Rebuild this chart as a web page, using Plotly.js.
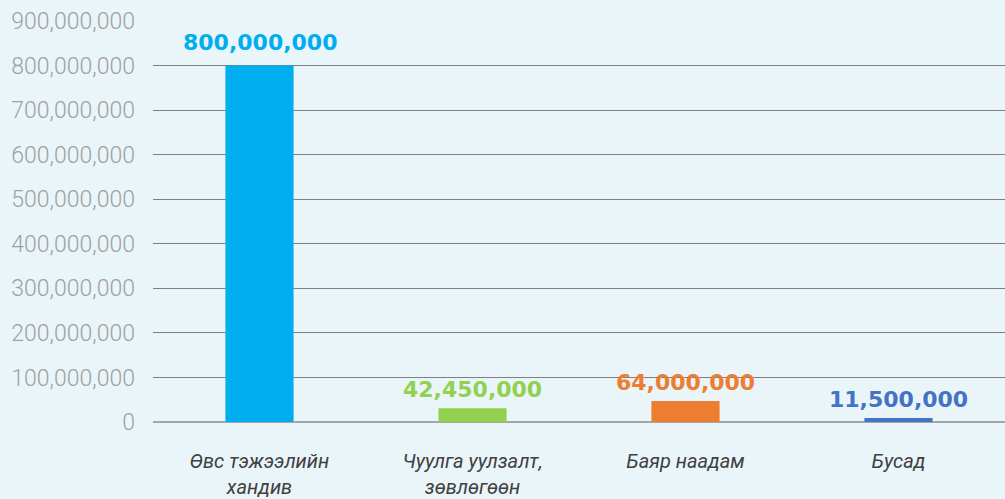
<!DOCTYPE html>
<html>
<head>
<meta charset="utf-8">
<script src="https://cdn.plot.ly/plotly-3.0.1.min.js"></script>
<style>html,body{margin:0;padding:0;background:#eaf5fa;}#chart{width:1005px;height:499px;}</style>
</head>
<body>
<div id="chart"></div>
<script>
const categories = ["Өвс тэжээлийн<br>хандив", "Чуулга уулзалт,<br>зөвлөгөөн", "Баяр наадам", "Бусад"];
// bar heights as drawn in the picture
const barHeights = [800000000, 31000000, 47000000, 9000000];
// value labels printed above the bars
const valueLabels = ["800,000,000", "42,450,000", "64,000,000", "11,500,000"];
const barColors = ["#00aeef", "#92d050", "#ed7d31", "#4472c4"];
const yTickValues = [0, 100000000, 200000000, 300000000, 400000000, 500000000, 600000000, 700000000, 800000000, 900000000];

const trace = {
  type: "bar",
  x: categories,
  y: barHeights,
  marker: {color: barColors},
  hoverinfo: "none"
};

const annotations = categories.map((c, i) => ({
  x: c, y: barHeights[i], xref: "x", yref: "y",
  text: valueLabels[i], showarrow: false,
  yanchor: "bottom", yshift: i === 0 ? 9 : 4,
  font: {family: "DejaVu Sans", size: 22, color: barColors[i], weight: "bold"}
}));

const layout = {
  width: 1005, height: 499,
  margin: {l: 153, r: 0, t: 21, b: 77},
  paper_bgcolor: "#eaf5fa",
  plot_bgcolor: "#eaf5fa",
  bargap: 0.68,
  showlegend: false,
  xaxis: {
    type: "category",
    showgrid: false,
    zeroline: false,
    showline: false,
    ticks: "",
    ticklabelstandoff: 25,
    tickfont: {family: "Roboto", size: 20, color: "#404040", style: "italic"}
  },
  yaxis: {
    range: [0, 900000000],
    tickvals: yTickValues,
    tickformat: ",",
    showgrid: true,
    gridcolor: "#7f7f7f",
    gridwidth: 1,
    zeroline: true,
    zerolinecolor: "#a6a6a6",
    zerolinewidth: 2,
    showline: false,
    ticks: "",
    ticklabelstandoff: 17,
    tickfont: {family: "Roboto", size: 23, color: "#a0a0a0", weight: 300}
  },
  annotations: annotations
};

Plotly.newPlot("chart", [trace], layout, {displayModeBar: false, staticPlot: true});
</script>
</body>
</html>
